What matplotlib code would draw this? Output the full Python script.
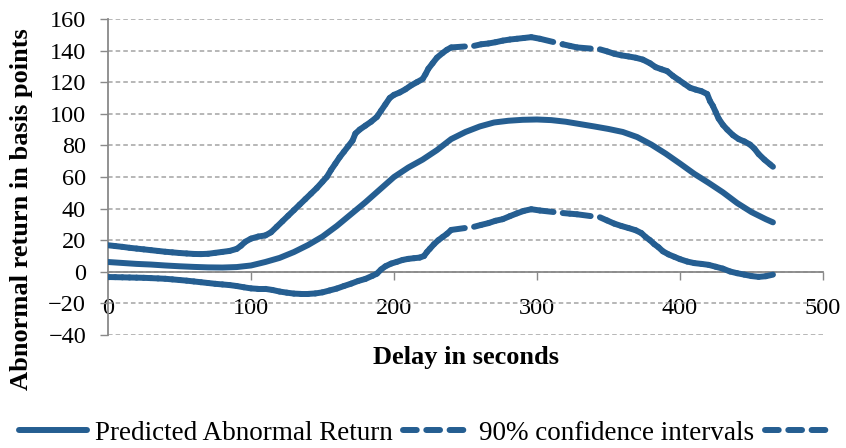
import matplotlib
matplotlib.use("Agg")
import matplotlib.pyplot as plt
from matplotlib.collections import LineCollection
from matplotlib.lines import Line2D
import numpy as np

# ---------------- data ----------------
pred_x = [0, 10, 20, 30, 40, 50, 60, 70, 80, 90, 100, 110, 120, 130, 140, 150,
          160, 170, 180, 190, 200, 210, 220, 230, 240, 250, 260, 270, 280, 290,
          300, 310, 320, 330, 340, 350, 360, 370, 380, 390, 400, 410, 420, 430,
          440, 450, 460, 465]
pred_y = [6.2, 5.6, 5.0, 4.6, 4.0, 3.5, 3.1, 2.8, 2.7, 3.0, 4.0, 6.2, 8.8, 12.5,
          17.0, 22.3, 29.0, 36.5, 44.0, 52.0, 60.0, 66.0, 71.0, 77.0, 84.0,
          88.5, 92.0, 94.5, 95.6, 96.2, 96.4, 96.0, 95.0, 93.5, 92.0, 90.4,
          88.5, 85.3, 80.5, 74.8, 68.5, 62.0, 56.3, 50.3, 43.5, 37.8, 33.3, 31.3]

upper_x = [0, 5, 10, 15, 20, 25, 30, 35, 40, 45, 50, 55, 60, 65, 70, 75, 80, 85,
           90, 93, 96, 100, 105, 110, 114, 118, 122, 126, 130, 134, 138, 142,
           146, 150, 153, 156, 159, 162, 165, 168, 171, 173, 176, 180, 184, 188,
           191, 194, 197, 200, 204, 208, 212, 216, 220, 222, 224, 227, 230, 234,
           237, 240, 256, 261, 266, 271, 276, 281, 286, 291, 296, 302, 318, 323,
           328, 344, 349, 354, 359, 364, 369, 374, 379, 383, 387, 391, 395, 399,
           403, 407, 411, 415, 419, 421, 423, 425, 427, 430, 433, 437, 441, 445,
           449, 452, 455, 459, 463, 465]
upper_y = [16.8, 16.3, 15.8, 15.2, 14.7, 14.2, 13.7, 13.2, 12.7, 12.3, 11.9,
           11.6, 11.3, 11.2, 11.4, 12.0, 12.6, 13.2, 14.5, 16.5, 19.0, 21.0,
           22.3, 23.0, 25.0, 28.5, 32.0, 35.5, 39.0, 42.5, 46.0, 49.5, 53.0,
           57.0, 60.0, 64.5, 68.5, 72.5, 76.0, 79.5, 83.0, 87.5, 90.0, 92.5,
           95.0, 98.0, 102.0, 106.0, 110.0, 112.0, 113.5, 115.5, 118.0, 120.0,
           122.0, 125.0, 128.5, 132.0, 135.5, 138.5, 140.5, 142.0, 143.0, 144.0,
           144.5, 145.3, 146.3, 147.0, 147.5, 148.0, 148.5, 147.5, 144.0, 143.0,
           142.0, 140.8, 139.5, 138.0, 137.0, 136.3, 135.5, 134.3, 132.0, 129.5,
           128.2, 127.0, 124.0, 121.5, 119.0, 116.5, 115.3, 114.3, 112.5, 108.0,
           105.0, 101.0, 97.0, 93.0, 90.0, 86.5, 84.0, 82.5, 80.5, 78.0, 74.5,
           71.0, 68.0, 66.5]

lower_x = [0, 5, 10, 15, 20, 25, 30, 35, 40, 45, 50, 55, 60, 65, 70, 75, 80, 85,
           90, 95, 100, 105, 110, 115, 120, 125, 130, 135, 140, 145, 150, 155,
           160, 165, 170, 175, 180, 185, 188, 191, 194, 198, 202, 206, 210, 214,
           218, 221, 223, 225, 228, 231, 234, 237, 240, 256, 261, 266, 271, 276,
           281, 286, 291, 296, 302, 318, 323, 328, 344, 349, 354, 359, 364, 369,
           373, 376, 379, 382, 385, 388, 392, 396, 400, 405, 410, 415, 420, 425,
           430, 435, 440, 445, 450, 455, 460, 465]
lower_y = [-3.3, -3.4, -3.5, -3.6, -3.7, -3.8, -4.0, -4.2, -4.4, -4.8, -5.2,
           -5.6, -6.1, -6.6, -7.1, -7.6, -8.0, -8.4, -9.0, -9.8, -10.5, -10.8,
           -10.8, -11.5, -12.5, -13.2, -13.8, -14.0, -14.0, -13.7, -13.0, -11.8,
           -10.6, -9.0, -7.5, -5.8, -4.5, -2.5, -1.2, 1.5, 3.5, 5.2, 6.3, 7.5,
           8.2, 8.6, 9.0, 10.0, 12.5, 14.5, 17.5, 20.0, 22.0, 24.0, 26.5, 28.5,
           29.7, 30.8, 32.3, 33.3, 35.2, 37.0, 38.6, 39.6, 38.8, 37.2, 36.8,
           36.4, 34.5, 32.5, 30.5, 29.0, 27.7, 26.3, 24.5, 22.0, 20.0, 17.5,
           15.5, 13.0, 11.0, 9.5, 8.0, 6.5, 5.5, 5.0, 4.4, 3.2, 2.0, 0.2, -0.9,
           -1.8, -2.7, -3.2, -2.8, -1.8]

x_ticks = [0, 100, 200, 300, 400, 500]
y_ticks = [-40, -20, 0, 20, 40, 60, 80, 100, 120, 140, 160]
legend_labels = ["Predicted Abnormal Return", "90% confidence intervals", ""]
x_title = "Delay in seconds"
y_title = "Abnormal return in basis points"

# ---------------- style ----------------
BLUE = "#255e91"
GRAY = "#898989"
GRID = "#a3a3a3"
LW = 4.3
DASH = (0, (2.3, 1.6))
SERIF = ["Liberation Serif", "DejaVu Serif"]
plt.rcParams["font.family"] = SERIF

fig = plt.figure(figsize=(8.46, 4.48), dpi=100)
ax = fig.add_axes([108 / 846, 1 - 335 / 448, (823 - 108) / 846, (335 - 19) / 448])

ax.set_xlim(0, 500)
ax.set_ylim(-40, 160)
ax.set_xticks(x_ticks)
ax.set_yticks(y_ticks)
ax.tick_params(axis="both", direction="out", length=8 * 72 / 100, width=1.0,
               color=GRAY, labelsize=17.5, labelcolor="black")
ax.tick_params(axis="x", pad=13)
ax.tick_params(axis="y", pad=10)

for s in ["top", "right"]:
    ax.spines[s].set_visible(False)
for s in ["left", "bottom"]:
    ax.spines[s].set_color(GRAY)
    ax.spines[s].set_linewidth(1.3)
ax.spines["bottom"].set_position(("data", 0))

ax.set_axisbelow(True)
ax.yaxis.grid(True, color=GRID, linestyle=(0, (3, 2)), linewidth=1.1)
ax.xaxis.grid(False)

# predicted
ax.plot(pred_x, pred_y, color=BLUE, lw=LW, solid_capstyle="round",
        solid_joinstyle="round", zorder=3)


def dashed_series(xs, ys):
    pts = np.column_stack([xs, ys])
    segs = np.stack([pts[:-1], pts[1:]], axis=1)
    lc = LineCollection(segs, colors=BLUE, linewidths=LW, linestyles=[DASH],
                        capstyle="round", joinstyle="round", zorder=3)
    ax.add_collection(lc)


dashed_series(upper_x, upper_y)
dashed_series(lower_x, lower_y)

fig.text(22 / 846, 1 - 209 / 448, y_title, rotation=90, ha="center",
         va="center", fontsize=19, fontweight="bold")
fig.text(466 / 846, 1 - 357 / 448, x_title, ha="center", va="center",
         fontsize=19, fontweight="bold")

handles = [
    Line2D([], [], color=BLUE, lw=LW, solid_capstyle="round"),
    Line2D([], [], color=BLUE, lw=LW, linestyle=DASH, dash_capstyle="round"),
    Line2D([], [], color=BLUE, lw=LW, linestyle=DASH, dash_capstyle="round"),
]
fig.legend(handles, legend_labels, loc="center", bbox_to_anchor=(430 / 846, 1 - 433 / 448),
           ncol=3, frameon=False, fontsize=19.5, handlelength=2.5,
           handletextpad=0.3, columnspacing=0.4, borderaxespad=0, borderpad=0)

fig.savefig("out.png", dpi=100)
